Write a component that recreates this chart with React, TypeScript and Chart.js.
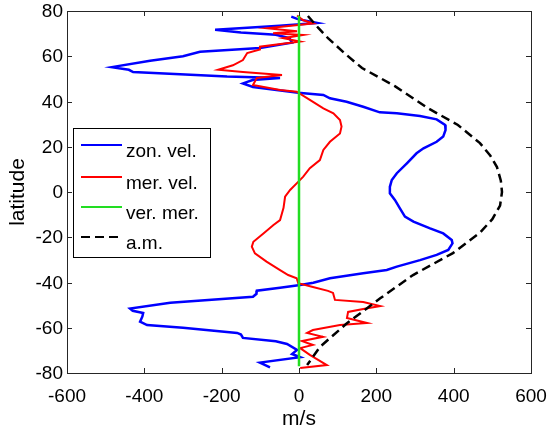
import React, { useEffect, useRef } from 'react';
import { Chart, registerables } from 'chart.js';

Chart.register(...registerables);

// ---- data (latitude in degrees, velocity in m/s) ----
const zonLat = [77.5, 76.5, 74.7, 73.5, 71.7, 70.5, 69.5, 68, 66, 63.6, 62, 60, 58, 55.2, 54, 53, 51, 50.4, 49.5, 48, 46.4,
  43.9, 42.9, 41.4, 39.9, 37.7, 35.2, 34.8, 33.6, 32.1, 29.6, 27.4, 24.5, 22.2, 19.3, 17.1, 12.7, 8.3, 5.3, 2.3, -0.6, -3.5, -7.2, -10.9, -13.1, -16.1, -18.3, -21.2, -22.7, -25.6, -27.8, -30.1, -33, -34.5, -35.9, -38.1, -40.1, -41.1, -42.3,
  -43.6, -45, -46.3, -49, -51.5, -52.5, -53.5, -55, -57.3, -58.8, -60, -62.3, -63, -64.5, -66, -67.2, -69.8, -71.6, -73, -75.4, -77.5];
const zonVel = [-20, -5, 47, -50, -217, -150, -60, -25, -18, -101, -256, -300, -385, -484, -440, -429, -186, -49, -120, -145, -119,
  -2, 63, 80, 123, 166, 209, 253, 313, 356, 378, 379, 373, 356, 322, 304, 279, 253, 240, 235, 235, 248, 261, 274, 296, 339, 373, 395, 397, 386, 356, 313, 253, 227, 166, 80, 37, 3, -49,
  -109, -110, -119, -333, -437, -430, -403, -405, -411, -393, -300, -160, -150, -145, -60, -31, -5, -18, 3, -101, -75];

const merLat = [78, 76, 74.5, 72.4, 71, 70.2, 69.4, 68, 66.5, 64.2, 63, 61.4, 58.3, 56, 54, 53, 51.7, 50.4, 47.3, 45.1, 44.3,
  40.7, 37, 34.8, 31.8, 28.9, 25.9, 22.2, 18.6, 14.1, 10.5, 6.8, 3.8, 0.9, -2.1, -7, -12.4, -14.6, -18.3, -22, -24.2, -27.1, -30.8, -34.5, -36.7, -38.1,
  -40.3, -42, -43.7, -44.6, -47.7, -48.6, -50.4, -51.7, -53, -55.7, -57.9, -58.8, -61, -62.3, -64, -65.9, -67.6, -69, -72, -76.5, -77.8];
const merVel = [-5, 10, 36, -83, -5, -67, 10, -41, 3, -101, -101, -134, -145, -171, -209, -145, -44, -109, -119, -49, -6,
  28, 63, 89, 106, 110, 106, 80, 63, 54, 28, 11, -6, -23, -36, -40, -49, -66, -92, -118, -122, -114, -84, -49, -28, -6,
  -2, 36, 75, 88, 93, 166, 210, 166, 127, 124, 176, 106, 36, 21, 62, 8, 36, 3, 28, 72, 3];

const verLat = [78, 60, 40, 20, 0, -20, -40, -60, -77];
const verVel = [0, 0, 0, 0, 0, 0, 0, 0, 0];

const amLat = [77.8, 72.5, 68, 61, 54.8, 46.8, 37, 29.6, 21.6, 16, 11, 5, 0, -6, -12, -18, -27, -36.7, -47, -58, -68.5, -76.5];
const amVel = [23, 50, 75, 120, 163, 248, 334, 411, 468, 495, 512, 522, 525, 520, 500, 468, 398, 295, 210, 124, 54, 21];

const xTicks = [-600, -400, -200, 0, 200, 400, 600];
const yTicks = [-80, -60, -40, -20, 0, 20, 40, 60, 80];
const seriesNames = ['zon. vel.', 'mer. vel.', 'ver. mer.', 'a.m.'];
const seriesColors = ['#0000ff', '#ff0000', '#22dd22', '#000000'];
const xTitle = 'm/s';
const yTitle = 'latitude';

const W = 548;
const H = 425;
const FONT = '"Liberation Sans", Arial, Helvetica, sans-serif';

const toPoints = (lat: number[], vel: number[]) => lat.map((y, i) => ({ x: vel[i], y }));

const framePlugin = {
  id: 'matlabFrame',
  afterDraw(chart: any) {
    const { ctx, chartArea: a, scales } = chart;
    ctx.save();
    ctx.strokeStyle = '#262626';
    ctx.lineWidth = 1;
    ctx.strokeRect(Math.round(a.left) + 0.5, Math.round(a.top) + 0.5, Math.round(a.right - a.left), Math.round(a.bottom - a.top));
    ctx.beginPath();
    xTicks.forEach((v) => {
      const px = Math.round(scales.x.getPixelForValue(v)) + 0.5;
      ctx.moveTo(px, a.bottom);
      ctx.lineTo(px, a.bottom - 5);
      ctx.moveTo(px, a.top);
      ctx.lineTo(px, a.top + 5);
    });
    yTicks.forEach((v) => {
      const py = Math.round(scales.y.getPixelForValue(v)) + 0.5;
      ctx.moveTo(a.left, py);
      ctx.lineTo(a.left + 5, py);
      ctx.moveTo(a.right, py);
      ctx.lineTo(a.right - 5, py);
    });
    ctx.stroke();

    // tick labels
    ctx.fillStyle = '#000';
    ctx.font = `19px ${FONT}`;
    ctx.textAlign = 'center';
    ctx.textBaseline = 'alphabetic';
    xTicks.forEach((v) => {
      ctx.fillText(String(v), scales.x.getPixelForValue(v), a.bottom + 29);
    });
    ctx.textAlign = 'right';
    ctx.textBaseline = 'middle';
    yTicks.forEach((v) => {
      ctx.fillText(String(v), a.left - 4, scales.y.getPixelForValue(v) + 1);
    });

    // axis titles
    ctx.font = `21px ${FONT}`;
    ctx.textAlign = 'center';
    ctx.textBaseline = 'alphabetic';
    ctx.fillText(xTitle, (a.left + a.right) / 2, 425);
    ctx.save();
    ctx.translate(24, (a.top + a.bottom) / 2);
    ctx.rotate(-Math.PI / 2);
    ctx.fillText(yTitle, 0, 0);
    ctx.restore();

    // legend
    const lx = 73, ly = 128, lw = 137, lh = 129;
    ctx.fillStyle = '#fff';
    ctx.fillRect(lx, ly, lw, lh);
    ctx.strokeStyle = '#000';
    ctx.strokeRect(lx + 0.5, ly + 0.5, lw, lh);
    const rows = [145, 177, 207, 237];
    ctx.font = `19px ${FONT}`;
    ctx.textAlign = 'left';
    seriesNames.forEach((name, i) => {
      ctx.beginPath();
      ctx.strokeStyle = seriesColors[i];
      ctx.lineWidth = 2;
      ctx.setLineDash(i === 3 ? [9, 5] : []);
      ctx.moveTo(81, rows[i]);
      ctx.lineTo(122, rows[i]);
      ctx.stroke();
      ctx.setLineDash([]);
      ctx.fillStyle = '#000';
      ctx.fillText(name, 126, rows[i] + 12);
    });
    ctx.restore();
  },
};

export default function App() {
  const ref = useRef<HTMLCanvasElement>(null);
  useEffect(() => {
    const canvas = ref.current;
    if (!canvas) return;
    const chart = new Chart(canvas, {
      type: 'scatter',
      data: {
        datasets: [
          { label: seriesNames[0], data: toPoints(zonLat, zonVel), showLine: true, borderColor: seriesColors[0], borderWidth: 2.5, pointRadius: 0, order: 4 },
          { label: seriesNames[1], data: toPoints(merLat, merVel), showLine: true, borderColor: seriesColors[1], borderWidth: 2, pointRadius: 0, order: 3 },
          { label: seriesNames[2], data: toPoints(verLat, verVel), showLine: true, borderColor: seriesColors[2], borderWidth: 2.5, pointRadius: 0, order: 2 },
          { label: seriesNames[3], data: toPoints(amLat, amVel), showLine: true, borderColor: seriesColors[3], borderWidth: 2.5, borderDash: [9, 5], pointRadius: 0, order: 1 },
        ],
      },
      options: {
        responsive: false,
        animation: false,
        events: [],
        layout: { padding: { top: 11, right: 17, left: 0, bottom: 0 } },
        plugins: { legend: { display: false }, tooltip: { enabled: false } },
        scales: {
          x: {
            type: 'linear',
            min: -600,
            max: 600,
            afterFit: (s: any) => { s.height = 52; },
            ticks: { display: false },
            grid: { display: false, drawTicks: false },
            border: { display: false },
          },
          y: {
            type: 'linear',
            min: -80,
            max: 80,
            afterFit: (s: any) => { s.width = 67; },
            ticks: { display: false },
            grid: { display: false, drawTicks: false },
            border: { display: false },
          },
        },
      },
      plugins: [framePlugin],
    });
    return () => chart.destroy();
  }, []);
  return (
    <div style={{ position: 'fixed', left: 0, top: 0, width: W, height: H, background: '#fff' }}>
      <canvas ref={ref} width={W} height={H} style={{ width: W, height: H, display: 'block' }} />
    </div>
  );
}
